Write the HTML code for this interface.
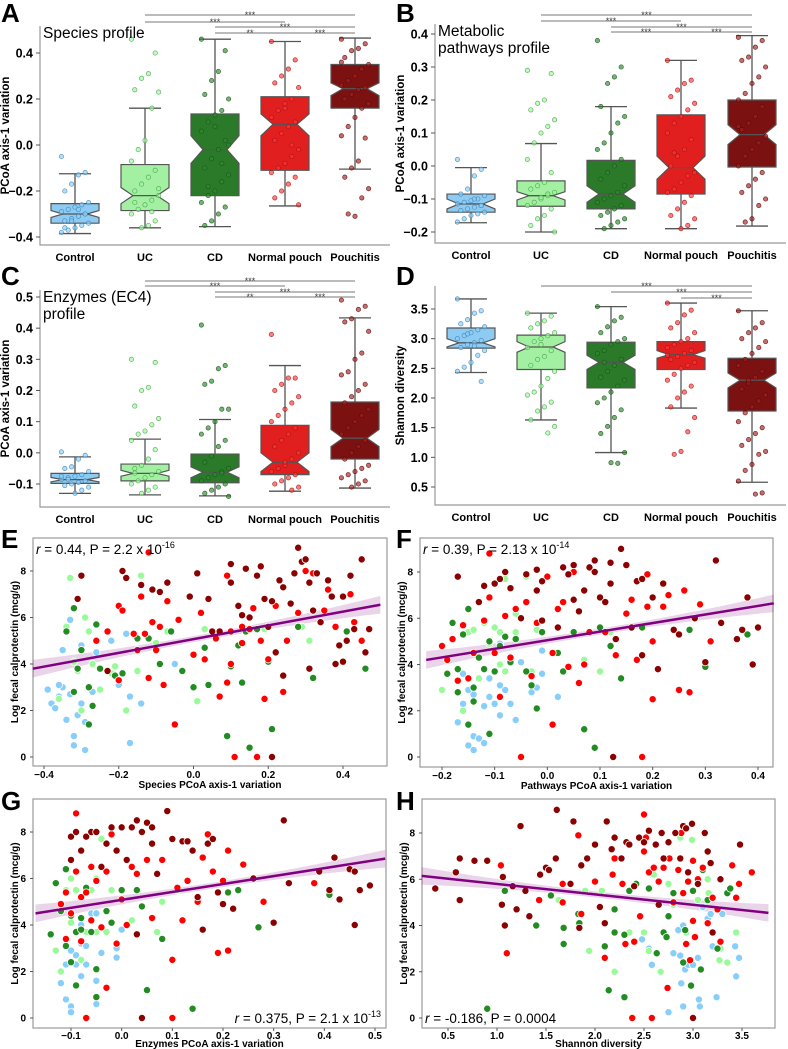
<!DOCTYPE html>
<html><head><meta charset="utf-8">
<style>
html,body{margin:0;padding:0;background:#fff;}
svg{display:block;font-family:"Liberation Sans","DejaVu Sans",sans-serif;}
</style></head>
<body>
<svg id="fig" width="788" height="1049" viewBox="0 0 788 1049" xmlns="http://www.w3.org/2000/svg"></svg>
<script>
// ---------- Box panel data ----------
const categories = ["Control","UC","CD","Normal pouch","Pouchitis"];
// stats: [whiskerLow, q1, median, q3, whiskerHigh, notchLow, notchHigh]
const statsA = [[-0.385,-0.34,-0.30,-0.255,-0.125,-0.315,-0.285],[-0.36,-0.285,-0.22,-0.085,0.16,-0.255,-0.185],[-0.355,-0.22,-0.02,0.135,0.46,-0.08,0.04],[-0.265,-0.11,0.09,0.21,0.45,0.04,0.135],[-0.105,0.16,0.245,0.35,0.465,0.215,0.27]];
const statsB = [[-0.172,-0.14,-0.115,-0.085,-0.005,-0.13,-0.10],[-0.2,-0.122,-0.09,-0.045,0.068,-0.103,-0.078],[-0.19,-0.13,-0.085,0.017,0.18,-0.11,-0.06],[-0.19,-0.085,-0.005,0.155,0.32,-0.04,0.03],[-0.182,-0.003,0.095,0.2,0.395,0.065,0.125]];
const statsC = [[-0.13,-0.098,-0.086,-0.066,-0.013,-0.093,-0.079],[-0.135,-0.09,-0.066,-0.036,0.044,-0.075,-0.056],[-0.138,-0.096,-0.062,-0.004,0.107,-0.08,-0.045],[-0.123,-0.07,-0.03,0.088,0.28,-0.06,0.0],[-0.113,-0.02,0.047,0.163,0.433,0.02,0.075]];
const statsD = [[2.43,2.84,2.93,3.18,3.67,2.86,3.0],[1.63,2.48,2.86,3.06,3.43,2.77,2.95],[1.08,2.17,2.6,2.94,3.54,2.48,2.72],[1.83,2.48,2.73,2.95,3.6,2.67,2.8],[0.58,1.78,2.3,2.67,3.47,2.17,2.42]];
const ptsA = [
[-0.05,-0.12,-0.13,-0.17,-0.2,-0.25,-0.26,-0.27,-0.28,-0.29,-0.3,-0.31,-0.32,-0.33,-0.34,-0.35,-0.36,-0.37,-0.38,-0.3,-0.28,-0.33,-0.36],
[0.46,0.4,0.31,0.29,0.24,0.23,0.16,0.02,-0.02,-0.07,-0.11,-0.14,-0.17,-0.2,-0.22,-0.24,-0.26,-0.28,-0.3,-0.33,-0.35,-0.36,-0.25,-0.19,-0.29],
[0.46,0.41,0.32,0.28,0.22,0.2,0.15,0.13,0.1,0.06,0.02,-0.02,-0.06,-0.1,-0.13,-0.16,-0.2,-0.22,-0.25,-0.27,-0.3,-0.33,-0.35,0.0,-0.08,0.08,-0.18],
[0.45,0.37,0.33,0.3,0.27,0.25,0.2,0.18,0.15,0.12,0.1,0.08,0.05,0.02,-0.02,-0.05,-0.08,-0.1,-0.12,-0.14,-0.17,-0.2,-0.23,-0.26,0.0,0.16],
[0.46,0.44,0.42,0.41,0.38,0.35,0.33,0.3,0.28,0.26,0.25,0.24,0.22,0.2,0.18,0.16,0.12,0.08,0.04,0.03,-0.07,-0.1,-0.14,-0.19,-0.23,-0.31,-0.3,0.36]];
const ptsB = [
[0.02,-0.01,-0.03,-0.07,-0.085,-0.09,-0.1,-0.105,-0.11,-0.115,-0.12,-0.125,-0.13,-0.135,-0.14,-0.145,-0.15,-0.16,-0.17,-0.12,-0.1],
[0.29,0.28,0.2,0.19,0.17,0.14,0.12,0.1,0.07,0.02,-0.02,-0.05,-0.06,-0.07,-0.08,-0.09,-0.1,-0.11,-0.12,-0.13,-0.15,-0.16,-0.18,-0.2,-0.085,-0.095],
[0.38,0.3,0.27,0.25,0.18,0.15,0.13,0.1,0.07,0.05,0.02,0.0,-0.02,-0.04,-0.06,-0.08,-0.09,-0.1,-0.11,-0.12,-0.13,-0.14,-0.15,-0.16,-0.17,-0.18,-0.19],
[0.32,0.26,0.25,0.23,0.21,0.19,0.17,0.15,0.13,0.1,0.08,0.05,0.03,0.0,-0.02,-0.03,-0.05,-0.07,-0.08,-0.09,-0.11,-0.13,-0.15,-0.16,-0.18,-0.19,0.04],
[0.39,0.38,0.36,0.33,0.32,0.3,0.27,0.25,0.22,0.2,0.18,0.15,0.13,0.11,0.09,0.07,0.05,0.03,0.0,-0.02,-0.04,-0.06,-0.08,-0.1,-0.12,-0.16,-0.17,0.12]];
const ptsC = [
[0.003,-0.008,-0.02,-0.045,-0.05,-0.06,-0.07,-0.075,-0.08,-0.085,-0.09,-0.095,-0.1,-0.105,-0.11,-0.12,-0.13,-0.085,-0.075],
[0.3,0.29,0.21,0.2,0.15,0.11,0.09,0.07,0.06,0.04,0.01,-0.02,-0.04,-0.05,-0.06,-0.07,-0.08,-0.09,-0.1,-0.11,-0.12,-0.13,-0.065],
[0.41,0.28,0.27,0.23,0.22,0.14,0.14,0.1,0.08,0.06,0.04,0.02,-0.01,-0.03,-0.05,-0.06,-0.07,-0.08,-0.09,-0.1,-0.11,-0.12,-0.13,-0.14,-0.065],
[0.38,0.24,0.24,0.22,0.2,0.18,0.16,0.14,0.12,0.1,0.08,0.06,0.04,0.02,0.0,-0.02,-0.04,-0.05,-0.06,-0.07,-0.08,-0.09,-0.1,-0.11,-0.12,-0.03],
[0.49,0.47,0.46,0.43,0.42,0.39,0.32,0.3,0.26,0.25,0.22,0.2,0.18,0.16,0.14,0.12,0.1,0.08,0.06,0.04,0.02,0.0,-0.02,-0.04,-0.05,-0.06,-0.07,-0.08,-0.09,-0.1,-0.11]];
const ptsD = [
[3.67,3.47,3.43,3.32,3.25,3.2,3.15,3.1,3.05,3.0,2.97,2.93,2.9,2.85,2.8,2.72,2.6,2.52,2.45,2.28,2.88,3.08],
[3.43,3.38,3.3,3.25,3.18,3.1,3.05,3.0,2.95,2.85,2.8,2.7,2.65,2.55,2.45,2.33,2.2,2.1,2.05,1.93,1.85,1.78,1.63,1.52,1.41,2.9],
[3.54,3.36,3.3,3.2,3.1,3.0,2.95,2.9,2.8,2.75,2.65,2.55,2.45,2.35,2.3,2.2,2.1,2.0,1.92,1.8,1.67,1.52,1.4,1.08,0.9,0.91,2.6],
[3.6,3.48,3.4,3.27,3.18,3.1,3.0,2.95,2.9,2.85,2.8,2.75,2.7,2.65,2.6,2.55,2.5,2.4,2.3,2.2,2.1,2.0,1.85,1.67,1.43,1.1,1.05,2.72],
[3.47,3.27,3.18,3.1,3.0,2.95,2.85,2.75,2.65,2.55,2.45,2.35,2.25,2.15,2.05,1.95,1.85,1.75,1.6,1.5,1.4,1.3,1.2,1.1,1.05,0.88,0.78,0.6,0.4,0.38,2.3]];
const ticksA = [-0.4,-0.2,0.0,0.2,0.4];
const ticksB = [-0.2,-0.1,0.0,0.1,0.2,0.3,0.4];
const ticksC = [-0.1,0.0,0.1,0.2,0.3,0.4,0.5];
const ticksD = [0.5,1.0,1.5,2.0,2.5,3.0,3.5];
// brackets: [fromCat, toCat, label]
const bracketsA = [[1,4,"***"],[1,3,"***"],[2,4,"***"],[2,3,"**"],[3,4,"***"]];
const bracketsB = [[1,4,"***"],[1,3,"***"],[2,4,"***"],[2,3,"***"],[3,4,"***"]];
const bracketsC = [[1,4,"***"],[1,3,"***"],[2,4,"***"],[2,3,"**"],[3,4,"***"]];
const bracketsD = [[1,4,"***"],[2,4,"***"],[3,4,"***"]];

// ---------- Scatter panel data ([x, logCalprotectin]) ----------
const scE = [
[[-0.39,2.9],[-0.38,2.3],[-0.37,2.1],[-0.36,2.6],[-0.35,3.0],[-0.35,4.6],[-0.34,1.6],[-0.33,5.9],[-0.33,2.7],[-0.32,0.5],[-0.32,0.9],[-0.31,1.8],[-0.3,2.3],[-0.3,4.8],[-0.29,0.3],[-0.29,1.5],[-0.27,2.8],[-0.26,4.5],[-0.22,5.0],[-0.2,3.1],[-0.18,5.3],[-0.17,2.6],[-0.17,0.6],[-0.14,2.3],[-0.05,4.0],[-0.36,3.1]],
[[-0.33,7.7],[-0.34,5.6],[-0.32,4.1],[-0.31,3.7],[-0.29,6.0],[-0.28,5.4],[-0.27,4.0],[-0.25,2.9],[-0.22,3.6],[-0.21,3.9],[-0.19,3.6],[-0.18,2.0],[-0.15,3.7],[-0.14,7.8],[-0.1,4.9],[-0.07,5.4],[0.01,2.4],[0.03,5.5],[0.19,5.5],[0.29,5.6],[0.31,5.0],[-0.36,2.5],[-0.30,2.0]],
[[-0.34,5.4],[-0.32,6.4],[-0.32,2.8],[-0.31,3.8],[-0.3,4.6],[-0.28,1.4],[-0.28,3.0],[-0.27,2.2],[-0.26,5.7],[-0.25,3.8],[-0.21,3.5],[-0.19,3.6],[-0.15,5.1],[-0.12,5.1],[-0.09,4.0],[-0.06,5.4],[-0.03,3.7],[0.0,3.0],[0.03,4.7],[0.04,3.1],[0.09,0.9],[0.1,3.9],[0.12,4.8],[0.13,3.2],[0.14,5.4],[0.15,0.4],[0.17,5.5],[0.21,1.2],[0.2,4.1],[0.28,5.6],[0.32,3.4],[0.41,5.4],[0.46,3.8]],
[[-0.26,5.0],[-0.23,5.4],[-0.2,6.5],[-0.2,3.3],[-0.19,6.3],[-0.16,5.3],[-0.15,4.6],[-0.14,6.9],[-0.13,5.3],[-0.12,8.8],[-0.12,3.4],[-0.11,5.8],[-0.1,4.6],[-0.09,5.6],[-0.08,3.1],[-0.07,6.7],[-0.05,1.4],[-0.04,5.9],[0.0,4.4],[0.02,6.2],[0.03,4.2],[0.06,5.1],[0.07,2.6],[0.09,7.8],[0.09,3.2],[0.1,4.0],[0.1,5.4],[0.11,0.0],[0.13,5.6],[0.13,4.9],[0.15,5.5],[0.16,6.4],[0.17,0.0],[0.18,5.0],[0.19,2.5],[0.2,4.2],[0.22,6.5],[0.24,2.8],[0.25,5.0],[0.28,6.2],[0.3,8.0],[0.32,7.9],[0.35,6.3],[0.36,7.2],[0.38,5.6],[0.42,7.0],[0.43,5.8],[0.45,5.0]],
[[-0.3,7.8],[-0.31,6.8],[-0.23,3.7],[-0.19,8.0],[-0.18,7.7],[-0.14,7.4],[-0.11,7.2],[-0.09,7.1],[-0.07,7.5],[-0.01,6.9],[0.01,7.9],[0.04,6.8],[0.05,5.4],[0.07,5.4],[0.1,7.5],[0.1,8.3],[0.13,6.1],[0.14,8.1],[0.15,6.0],[0.17,7.8],[0.18,8.2],[0.19,6.8],[0.2,5.6],[0.21,6.7],[0.23,7.6],[0.24,7.3],[0.24,3.5],[0.26,6.6],[0.27,7.9],[0.28,9.0],[0.29,8.4],[0.3,8.5],[0.31,7.5],[0.32,6.3],[0.33,7.9],[0.34,5.8],[0.36,7.6],[0.37,6.9],[0.38,4.0],[0.39,4.8],[0.4,6.9],[0.41,5.0],[0.42,7.8],[0.43,5.5],[0.45,8.5],[0.46,4.5],[0.47,5.5],[0.21,0.0],[0.31,3.8],[0.4,4.1],[0.12,6.5],[0.22,4.5]]];
const scF = [
[[-0.17,1.5],[-0.16,3.6],[-0.16,2.3],[-0.15,0.5],[-0.14,0.3],[-0.14,0.9],[-0.14,2.7],[-0.13,0.8],[-0.12,2.2],[-0.12,0.6],[-0.11,3.4],[-0.11,2.6],[-0.1,2.3],[-0.09,1.8],[-0.09,4.9],[-0.08,2.9],[-0.07,2.3],[-0.06,1.6],[-0.05,4.1],[-0.03,2.8],[-0.02,3.0],[-0.01,4.6],[-0.01,3.6],[0.02,2.6],[-0.15,2.9],[-0.09,3.1]],
[[-0.2,2.9],[-0.16,2.0],[-0.15,5.4],[-0.14,5.5],[-0.13,3.4],[-0.12,5.8],[-0.11,4.9],[-0.1,3.7],[-0.1,5.6],[-0.09,4.0],[-0.09,5.4],[-0.08,3.7],[-0.08,7.7],[-0.06,6.2],[-0.04,7.8],[-0.03,3.7],[-0.02,5.5],[0.07,4.2],[0.1,3.7],[0.12,5.4],[-0.06,5.4]],
[[-0.19,3.6],[-0.18,5.8],[-0.17,2.8],[-0.17,3.8],[-0.16,5.3],[-0.15,6.4],[-0.15,1.4],[-0.14,2.4],[-0.14,3.0],[-0.13,4.3],[-0.12,3.8],[-0.11,5.0],[-0.11,1.0],[-0.1,3.7],[-0.09,4.8],[-0.08,5.2],[-0.07,4.1],[-0.06,5.1],[-0.04,3.7],[-0.03,3.1],[-0.02,2.1],[-0.01,5.4],[0.02,4.5],[0.03,3.7],[0.05,5.4],[0.07,1.2],[0.09,0.4],[0.1,5.6],[0.12,4.8],[0.14,3.4],[0.18,5.6],[0.27,5.5],[0.3,3.9],[0.38,5.3]],
[[-0.2,4.8],[-0.19,4.2],[-0.18,5.1],[-0.17,3.3],[-0.16,5.7],[-0.15,3.4],[-0.14,4.5],[-0.12,5.9],[-0.11,6.9],[-0.11,8.8],[-0.1,4.5],[-0.09,2.6],[-0.08,6.1],[-0.07,4.3],[-0.06,6.4],[-0.05,0.0],[-0.04,6.7],[-0.03,3.5],[-0.02,5.8],[0.0,7.8],[0.01,4.5],[0.01,1.4],[0.02,6.4],[0.03,6.7],[0.04,3.9],[0.05,8.0],[0.06,3.2],[0.07,4.0],[0.08,5.4],[0.1,6.9],[0.11,5.4],[0.13,4.4],[0.15,6.2],[0.16,6.8],[0.17,4.2],[0.18,0.0],[0.19,7.9],[0.2,5.0],[0.2,2.5],[0.22,6.5],[0.23,7.0],[0.25,2.9],[0.26,7.2],[0.27,2.8],[0.29,6.6],[0.31,5.0],[0.19,6.5]],
[[-0.17,7.8],[-0.12,7.4],[-0.13,6.7],[-0.1,7.5],[-0.09,7.7],[-0.08,8.0],[-0.07,7.3],[-0.05,6.0],[-0.04,7.9],[-0.02,7.2],[-0.02,8.1],[-0.01,7.6],[-0.01,5.9],[0.02,5.6],[0.03,8.2],[0.04,7.9],[0.05,8.3],[0.05,6.8],[0.06,6.3],[0.07,7.2],[0.08,8.2],[0.09,8.5],[0.09,8.0],[0.1,6.9],[0.11,6.7],[0.12,7.5],[0.12,8.4],[0.13,5.1],[0.14,9.0],[0.15,8.3],[0.16,5.6],[0.17,7.6],[0.18,7.7],[0.18,4.4],[0.2,6.9],[0.21,3.8],[0.22,7.5],[0.24,5.5],[0.25,5.3],[0.28,6.0],[0.3,4.1],[0.32,8.5],[0.33,5.8],[0.36,5.1],[0.37,5.5],[0.38,6.9],[0.39,4.0],[0.4,5.6],[0.125,0.0]]];
const scG = [
[[-0.12,1.5],[-0.11,0.8],[-0.11,2.3],[-0.1,0.5],[-0.1,2.9],[-0.1,0.25],[-0.09,2.7],[-0.09,2.3],[-0.08,1.8],[-0.08,3.2],[-0.08,4.0],[-0.07,2.3],[-0.06,4.5],[-0.05,1.6],[-0.05,0.6],[-0.05,4.5],[-0.04,2.8],[-0.01,2.6],[-0.01,3.0],[0.0,3.8],[-0.07,3.1]],
[[-0.13,2.9],[-0.12,2.0],[-0.11,5.5],[-0.1,4.1],[-0.1,6.0],[-0.09,3.7],[-0.09,5.5],[-0.08,2.5],[-0.07,3.7],[-0.06,5.5],[-0.05,6.0],[-0.04,7.7],[-0.03,3.7],[-0.02,5.5],[0.02,4.2],[0.07,3.7],[0.08,5.0],[0.11,5.5],[-0.05,3.7]],
[[-0.14,3.6],[-0.13,5.8],[-0.12,4.6],[-0.11,3.1],[-0.11,6.4],[-0.1,2.4],[-0.1,4.4],[-0.09,3.7],[-0.09,1.4],[-0.08,3.8],[-0.07,5.6],[-0.06,3.7],[-0.05,2.1],[-0.05,0.9],[-0.04,3.9],[-0.03,4.6],[-0.02,4.1],[0.0,5.5],[0.03,5.5],[0.04,4.8],[0.05,1.2],[0.08,3.4],[0.14,0.4],[0.21,5.4],[0.23,5.5],[0.27,3.9],[0.41,5.3],[-0.08,4.3]],
[[-0.12,4.9],[-0.11,5.4],[-0.11,3.4],[-0.1,4.5],[-0.09,8.8],[-0.09,6.3],[-0.08,5.2],[-0.08,3.3],[-0.07,5.4],[-0.07,0.0],[-0.06,4.2],[-0.06,6.5],[-0.05,5.9],[-0.04,3.9],[-0.03,6.3],[-0.03,1.3],[-0.02,7.9],[-0.01,3.2],[0.0,5.1],[0.01,4.0],[0.02,6.5],[0.03,6.2],[0.05,6.8],[0.06,4.3],[0.08,6.8],[0.1,2.5],[0.1,0.0],[0.12,4.2],[0.13,5.9],[0.15,5.0],[0.16,6.9],[0.17,7.9],[0.18,6.3],[0.19,2.8],[0.2,5.9],[0.21,2.9],[0.21,7.2],[0.24,6.6],[0.28,5.0],[0.38,5.8],[0.11,5.6]],
[[-0.1,6.8],[-0.1,7.8],[-0.09,8.0],[-0.08,7.2],[-0.07,7.8],[-0.06,8.0],[-0.05,8.0],[-0.04,6.5],[-0.03,7.5],[-0.02,8.2],[-0.01,7.2],[0.0,8.2],[0.01,6.8],[0.02,8.2],[0.03,8.5],[0.04,8.0],[0.05,8.4],[0.06,7.5],[0.06,8.2],[0.07,6.2],[0.09,8.9],[0.1,7.7],[0.12,7.6],[0.13,7.6],[0.14,7.2],[0.15,5.2],[0.16,3.8],[0.17,7.5],[0.18,7.7],[0.19,5.4],[0.2,4.9],[0.22,4.7],[0.26,6.0],[0.3,4.1],[0.32,8.5],[0.33,5.8],[0.39,6.3],[0.41,5.5],[0.42,6.9],[0.43,5.1],[0.45,6.4],[0.46,4.0],[0.46,6.3],[0.47,5.5],[0.49,5.7],[0.04,0.0],[0.03,3.6]]];
const scH = [
[[2.48,3.4],[2.55,3.0],[2.58,2.3],[2.75,0.25],[2.8,2.8],[2.85,3.8],[2.87,2.7],[2.88,1.5],[2.9,0.5],[2.92,2.1],[2.95,2.3],[3.0,2.3],[3.05,2.6],[3.07,0.5],[3.1,4.8],[3.15,4.3],[3.18,4.5],[3.2,3.1],[3.24,0.9],[3.3,4.5],[3.43,3.1],[3.44,1.8],[3.47,2.6],[3.06,0.8],[2.9,4.0]],
[[1.63,5.1],[1.9,5.5],[1.94,2.9],[2.07,5.5],[2.2,3.7],[2.2,2.0],[2.35,3.7],[2.5,3.7],[2.55,2.9],[2.6,6.2],[2.67,2.0],[2.75,5.8],[2.8,4.9],[2.87,7.8],[2.93,3.7],[2.99,7.7],[3.05,5.1],[3.15,6.0],[3.16,5.4],[3.27,2.5],[3.35,2.4],[3.44,3.7],[3.28,3.0]],
[[0.9,0.4],[1.08,5.5],[1.4,4.0],[1.55,5.3],[1.68,3.9],[1.68,3.2],[1.83,4.5],[1.84,4.1],[2.1,3.1],[2.14,1.2],[2.2,4.7],[2.2,3.7],[2.3,0.9],[2.3,3.6],[2.35,5.5],[2.42,5.8],[2.55,5.6],[2.63,2.8],[2.7,3.7],[2.73,3.5],[2.75,4.4],[2.8,5.4],[2.9,2.4],[2.92,3.8],[2.98,1.4],[3.0,5.5],[3.08,2.1],[3.1,6.4],[3.15,5.1],[3.25,3.0],[3.35,5.4],[3.38,5.6]],
[[1.04,6.6],[1.1,2.8],[1.43,5.1],[1.67,5.0],[1.67,5.8],[1.83,7.9],[1.86,4.5],[2.0,5.9],[2.1,2.6],[2.18,6.2],[2.2,6.9],[2.28,5.8],[2.31,3.2],[2.38,0.0],[2.4,3.3],[2.46,4.4],[2.5,8.8],[2.5,7.2],[2.52,7.8],[2.55,6.3],[2.58,0.0],[2.6,6.5],[2.65,5.9],[2.7,6.5],[2.74,1.3],[2.76,6.9],[2.8,5.0],[2.85,6.4],[2.88,8.0],[2.9,5.4],[2.93,3.2],[2.95,5.9],[2.97,2.5],[3.0,6.8],[3.02,3.5],[3.05,6.0],[3.1,6.5],[3.15,4.1],[3.2,5.2],[3.25,4.7],[3.28,3.3],[3.4,6.6],[3.44,5.2],[3.47,5.8],[3.6,6.3],[3.0,4.2]],
[[0.37,5.6],[0.58,6.3],[0.62,6.9],[0.62,5.1],[0.77,6.8],[0.9,6.8],[1.06,6.1],[1.05,4.9],[1.08,4.0],[1.16,5.7],[1.2,4.7],[1.24,8.3],[1.29,5.5],[1.33,4.4],[1.44,6.2],[1.5,6.5],[1.53,6.4],[1.6,6.9],[1.61,9.0],[1.75,5.8],[1.78,8.5],[1.84,3.9],[1.86,6.6],[1.92,6.9],[2.0,7.5],[2.05,4.8],[2.1,4.1],[2.12,8.5],[2.17,7.3],[2.2,7.8],[2.27,6.9],[2.32,7.6],[2.35,7.5],[2.4,5.7],[2.45,7.8],[2.5,7.6],[2.55,8.1],[2.62,7.5],[2.65,4.9],[2.68,8.0],[2.7,6.9],[2.75,7.6],[2.82,8.0],[2.87,6.9],[2.9,8.3],[2.95,6.3],[2.99,8.4],[3.0,0.0],[3.05,5.8],[3.12,8.0],[3.15,7.2],[3.18,6.7],[3.2,3.7],[3.28,6.0],[3.48,7.5],[2.93,8.2]]];
// regression [slope, intercept, xStart, xEnd]
const regE = [2.957, 5.07, -0.43, 0.5];
const regF = [3.71, 5.05, -0.23, 0.43];
const regG = [3.41, 5.08, -0.17, 0.52];
const regH = [-0.452, 6.25, 0.23, 3.77];
const xticksE = [-0.4,-0.2,0.0,0.2,0.4];
const xticksF = [-0.2,-0.1,0.0,0.1,0.2,0.3,0.4];
const xticksG = [-0.1,0.0,0.1,0.2,0.3,0.4,0.5];
const xticksH = [0.5,1.0,1.5,2.0,2.5,3.0,3.5];
const yticksCal = [0,2,4,6,8];

// ---------- drawing ----------
const NS = "http://www.w3.org/2000/svg";
const svg = document.getElementById("fig");
function mk(tag, attrs, parent){
  const e = document.createElementNS(NS, tag);
  for (const k in attrs) e.setAttribute(k, attrs[k]);
  (parent||svg).appendChild(e);
  return e;
}
function txt(s, attrs, parent){ const e = mk("text", attrs, parent); e.textContent = s; return e; }
function lin(v0,p0,v1,p1){ return v => p0 + (v - v0) * (p1 - p0) / (v1 - v0); }
function fmt(v,d){ const s = v.toFixed(d); return v < 0 ? "\u2212" + s.slice(1) : s; }

const boxFill = ["#8ecbf2","#a3f0a3","#2a7a2a","#e11f1f","#7b1111"];
const ptFill = ["#87cefa","#98fb98","#2e8b2e","#ff3535","#a52020"];
const ptStroke = ["#3f7fb0","#4a9a4a","#185218","#a01010","#5a0808"];
const scColor = ["#87cefa","#98fb98","#228b22","#ff0000","#8b0000"];

function boxPanel(cfg, stats, pts, ticks, brackets){
  const g = mk("g", {});
  
  
  const y = lin(cfg.v0, cfg.p0, cfg.v1, cfg.p1);
  const cx = cfg.cats;
  const spL = mk("path", {d:`M${cfg.left},${cfg.top}V${cfg.bottom}H${cfg.right}`, fill:"none", stroke:"#999", "stroke-width":1.2}, g);
  
  
  ticks.forEach(t => {
    const ty = y(t);
    mk("line", {x1:cfg.left-4, x2:cfg.left, y1:ty, y2:ty, stroke:"#555"}, g);
    const tl = txt(fmt(t,1), {x:cfg.left-7, y:ty+4.5, "text-anchor":"end", "font-size":12.5, "font-weight":"bold"}, g);
    
    
  });
  categories.forEach((c,i) => {
    const cl = txt(c, {x:cx[i], y:cfg.bottom+16, "text-anchor":"middle", "font-size":11, "font-weight":"bold"}, g);
    
    
  });
  const yl = txt(cfg.ylabel, {x:0, y:0, transform:`translate(${cfg.left-31},${(cfg.top+cfg.bottom)/2}) rotate(-90)`, "text-anchor":"middle", "font-size":11.5, "font-weight":"bold"}, g);
  
  
  const w = 24;
  stats.forEach((s,i) => {
    const x = cx[i];
    const [wl,q1,md,q3,wh,nl,nh] = s;
    const bg = mk("g", {}, g);
    
    
    mk("line", {x1:x, x2:x, y1:y(wl), y2:y(q1), stroke:"#555", "stroke-width":1.3}, bg);
    mk("line", {x1:x, x2:x, y1:y(q3), y2:y(wh), stroke:"#555", "stroke-width":1.3}, bg);
    mk("line", {x1:x-16, x2:x+16, y1:y(wl), y2:y(wl), stroke:"#555", "stroke-width":1.3}, bg);
    mk("line", {x1:x-16, x2:x+16, y1:y(wh), y2:y(wh), stroke:"#555", "stroke-width":1.3}, bg);
    const poly = [[x-w,q1],[x+w,q1],[x+w,nl],[x+w/2,md],[x+w,nh],[x+w,q3],[x-w,q3],[x-w,nh],[x-w/2,md],[x-w,nl]]
      .map(p => p[0]+","+y(p[1])).join(" ");
    mk("polygon", {points:poly, fill:boxFill[i], stroke:"#555", "stroke-width":1.2}, bg);
    mk("line", {x1:x-w/2, x2:x+w/2, y1:y(md), y2:y(md), stroke:"#555", "stroke-width":1.3}, bg);
    pts[i].forEach((v,j) => {
      const jx = ((j*7)%9 - 4) * 3.4;
      const c = mk("circle", {cx:x+jx, cy:y(v), r:2.2, fill:ptFill[i], "fill-opacity":0.65, stroke:ptStroke[i], "stroke-width":0.7, "stroke-opacity":0.8}, bg);
      
      
    });
  });
  brackets.forEach((b,k) => {
    const by = cfg.brY[k];
    const bl = mk("line", {x1:cx[b[0]], x2:cx[b[1]], y1:by, y2:by, stroke:"#777", "stroke-width":1}, g);
    
    
    const bt = txt(b[2], {x:(cx[b[0]]+cx[b[1]])/2, y:by+3, "text-anchor":"middle", "font-size":9, fill:"#444"}, g);
    
    
  });
  if (cfg.title) {
    cfg.title.forEach((line,k) => {
      const tt = txt(line, {x:cfg.left+3, y:cfg.titleY + k*17, "font-size":15.5}, g);
      
      
    });
  }
  const lt = txt(cfg.letter, {x:cfg.lx, y:cfg.ly, "font-size":26, "font-weight":"bold"}, g);
  
  
}

function scatterPanel(cfg, groups, reg, xticks){
  const g = mk("g", {});
  
  
  const x = lin(cfg.xv0, cfg.xp0, cfg.xv1, cfg.xp1);
  const y = lin(0, cfg.y0, 8, cfg.y8);
  const fr = mk("rect", {x:cfg.left, y:cfg.top, width:cfg.right-cfg.left, height:cfg.bottom-cfg.top, fill:"none", stroke:"#999", "stroke-width":1.2}, g);
  
  
  xticks.forEach(t => {
    const tx = x(t);
    mk("line", {x1:tx, x2:tx, y1:cfg.bottom, y2:cfg.bottom+3, stroke:"#555"}, g);
    const tl = txt(fmt(t,1), {x:tx, y:cfg.bottom+cfg.tickDy, "text-anchor":"middle", "font-size":10, "font-weight":"bold"}, g);
    
    
  });
  yticksCal.forEach(t => {
    const ty = y(t);
    mk("line", {x1:cfg.left-3, x2:cfg.left, y1:ty, y2:ty, stroke:"#555"}, g);
    const tl = txt(String(t), {x:cfg.left-7, y:ty+3.5, "text-anchor":"end", "font-size":10, "font-weight":"bold"}, g);
    
    
  });
  const xl = txt(cfg.xlabel, {x:(cfg.left+cfg.right)/2, y:cfg.bottom+cfg.labelDy, "text-anchor":"middle", "font-size":10, "font-weight":"bold"}, g);
  
  
  const yl = txt("Log fecal calprotectin (mcg/g)", {x:0, y:0, transform:`translate(${cfg.left-15},${(cfg.top+cfg.bottom)/2}) rotate(-90)`, "text-anchor":"middle", "font-size":10, "font-weight":"bold"}, g);
  
  
  const [m,b,xs,xe] = reg;
  const xm = (xs+xe)/2, hr = (xe-xs)/2;
  const up = [], dn = [];
  for (let k=0;k<=20;k++){
    const xv = xs + (xe-xs)*k/20;
    const d = (xv-xm)/hr;
    const hw = 0.13 + 0.25*d*d;
    up.push(x(xv)+","+y(m*xv+b+hw));
    dn.unshift(x(xv)+","+y(m*xv+b-hw));
  }
  const band = mk("polygon", {points:up.concat(dn).join(" "), fill:"#800080", "fill-opacity":0.17}, g);
  
  
  groups.forEach((grp,i) => {
    grp.forEach(p => {
      const c = mk("circle", {cx:x(p[0]), cy:y(p[1]), r:3.6, fill:scColor[i], stroke:"#fff", "stroke-width":0.8}, g);
      
      
    });
  });
  const rl = mk("line", {x1:x(xs), y1:y(m*xs+b), x2:x(xe), y2:y(m*xe+b), stroke:"#800080", "stroke-width":2.5}, g);
  
  
  const an = mk("text", {x:cfg.ax, y:cfg.ay, "font-size":13.5, "text-anchor":cfg.aanchor||"start"}, g);
  
  
  an.innerHTML = `<tspan font-style="italic">r</tspan> = ${cfg.r}, P = ${cfg.p}` + (cfg.exp ? `<tspan dy="-6" font-size="9">${cfg.exp}</tspan>` : "");
  const lt = txt(cfg.letter, {x:cfg.lx, y:cfg.ly, "font-size":26, "font-weight":"bold"}, g);
  
  
}

const catsL = [75,145,215,285,355], catsR = [471,541,611,681,752];
boxPanel({name:"panel-a-species", left:40, right:390, top:26, bottom:245, v0:0.4, p0:53, v1:-0.4, p1:237, cats:catsL, ylabel:"PCoA axis-1 variation", brY:[15,22,27,33,33], title:["Species profile"], titleY:38, letter:"A", lx:1, ly:22}, statsA, ptsA, ticksA, bracketsA);
boxPanel({name:"panel-b-pathways", left:435, right:786, top:24, bottom:243, v0:0.4, p0:34, v1:-0.2, p1:232, cats:catsR, ylabel:"PCoA axis-1 variation", brY:[15,21,27,32,32], title:["Metabolic","pathways profile"], titleY:36, letter:"B", lx:396, ly:22}, statsB, ptsB, ticksB, bracketsB);
boxPanel({name:"panel-c-enzymes", left:40, right:390, top:290, bottom:507, v0:0.5, p0:297, v1:-0.1, p1:484, cats:catsL, ylabel:"PCoA axis-1 variation", brY:[281,286,292,297,297], title:["Enzymes (EC4)","profile"], titleY:302, letter:"C", lx:1, ly:285}, statsC, ptsC, ticksC, bracketsC);
boxPanel({name:"panel-d-shannon", left:435, right:786, top:286, bottom:505, v0:3.5, p0:309, v1:0.5, p1:487, cats:catsR, ylabel:"Shannon diversity", brY:[286,292,298], title:null, letter:"D", lx:396, ly:285}, statsD, ptsD, ticksD, bracketsD);

scatterPanel({name:"panel-e-species-vs-calprotectin", left:33, right:387, top:538, bottom:766, xv0:-0.4, xp0:44, xv1:0.4, xp1:343, y0:757, y8:571, tickDy:12, labelDy:22, xlabel:"Species PCoA axis-1 variation", r:"0.44", p:"2.2 x 10", exp:"-16", ax:36, ay:554, letter:"E", lx:1, ly:548}, scE, regE, xticksE);
scatterPanel({name:"panel-f-pathways-vs-calprotectin", left:420, right:773, top:538, bottom:767, xv0:-0.2, xp0:442, xv1:0.4, xp1:758, y0:757, y8:572, tickDy:12, labelDy:22, xlabel:"Pathways PCoA axis-1 variation", r:"0.39", p:"2.13 x 10", exp:"-14", ax:423, ay:554, letter:"F", lx:396, ly:548}, scF, regF, xticksF);
scatterPanel({name:"panel-g-enzymes-vs-calprotectin", left:33, right:386, top:799, bottom:1028, xv0:-0.1, xp0:71, xv1:0.5, xp1:375, y0:1018, y8:832, tickDy:11, labelDy:19, xlabel:"Enzymes PCoA axis-1 variation", r:"0.375", p:"2.1 x 10", exp:"-13", ax:381, ay:1023, aanchor:"end", letter:"G", lx:1, ly:810}, scG, regG, xticksG);
scatterPanel({name:"panel-h-shannon-vs-calprotectin", left:422, right:775, top:799, bottom:1028, xv0:0.5, xp0:448, xv1:3.5, xp1:742, y0:1018, y8:833, tickDy:11, labelDy:19, xlabel:"Shannon diversity", r:"-0.186", p:"0.0004", exp:"", ax:425, ay:1023, letter:"H", lx:396, ly:810}, scH, regH, xticksH);
</script>
</body></html>
